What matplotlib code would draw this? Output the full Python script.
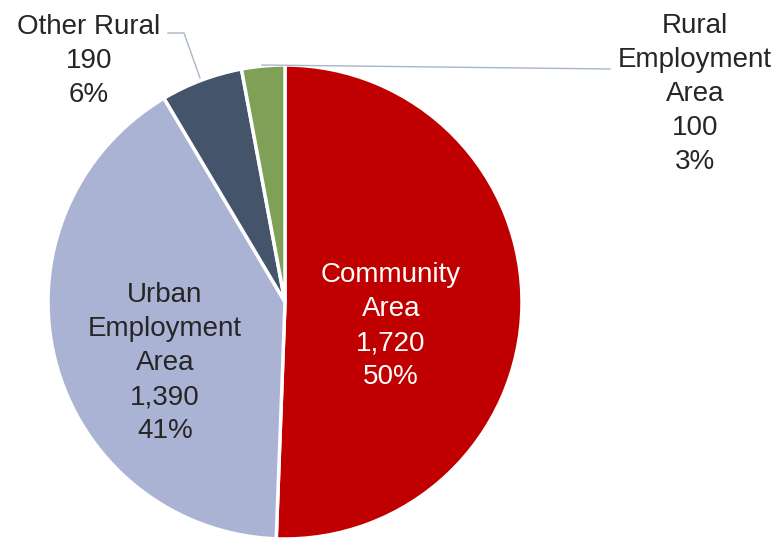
import matplotlib
matplotlib.use("Agg")
import matplotlib.pyplot as plt

# land area by designation, going clockwise from 12 o'clock
labels = ["Community\nArea", "Urban\nEmployment\nArea", "Other Rural", "Rural\nEmployment\nArea"]
values = [1720, 1390, 190, 100]
shares = [50, 41, 6, 3]
colors = ["#C00000", "#ABB3D4", "#44546A", "#7FA157"]

W, H = 778, 539
fig = plt.figure(figsize=(W / 100, H / 100), dpi=100)
ax = fig.add_axes([0, 0, 1, 1])

cx, cy, r = 285, H - 302, 237
ax.pie(values, colors=colors, startangle=90, counterclock=False,
       center=(cx, cy), radius=r, frame=True,
       wedgeprops=dict(edgecolor="white", linewidth=2.5))
ax.set_xlim(0, W)
ax.set_ylim(0, H)
ax.set_aspect("equal")
ax.axis("off")

txt = [f"{lab}\n{v:,}\n{p}%" for lab, v, p in zip(labels, values, shares)]

font = dict(family="Liberation Sans", fontsize=20, ha="center", va="center",
            linespacing=1.4)
ax.text(391, H - 326, txt[0], color="white", **font)
ax.text(165, H - 363, txt[1], color="#262626", **font)
ax.text(89, H - 61, txt[2], color="#262626", **font)
ax.text(695, H - 94, txt[3], color="#262626", **font)

# leader lines for the two small slices
lc = "#A6B7C9"
ax.plot([168, 184, 200], [H - 33, H - 33, H - 78], color=lc, lw=1)
ax.plot([262, 610], [H - 65, H - 69], color=lc, lw=1)

fig.savefig("out.png", dpi=100)
